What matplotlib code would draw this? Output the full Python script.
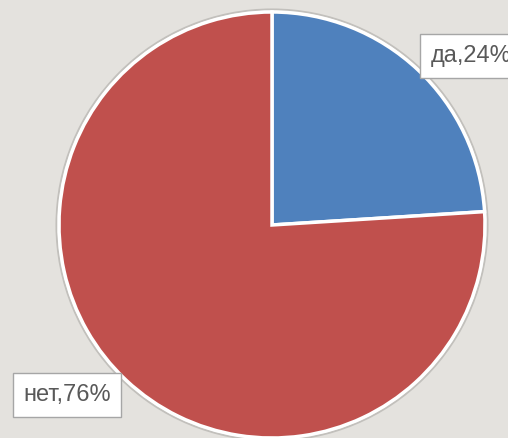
import matplotlib.pyplot as plt
from matplotlib.patches import Circle

labels = ["да", "нет"]
shares = [24, 76]
colors = ["#4F81BD", "#C0504D"]

W, H = 508, 438
BG = "#E4E2DE"

fig = plt.figure(figsize=(W / 100, H / 100), dpi=100, facecolor=BG)
ax = fig.add_axes([0, 0, 1, 1])

cx, cy, r = 272, H - 225, 213

# faint shadow around the pie rim
ax.add_patch(Circle((cx, cy), r + 2.5, facecolor="none", edgecolor="#C2C0BC", linewidth=1.5, zorder=0))

ax.pie(
    shares,
    colors=colors,
    startangle=90,
    counterclock=False,
    center=(cx, cy),
    radius=r,
    wedgeprops=dict(edgecolor="white", linewidth=2.5),
    frame=True,
)
ax.set_xlim(0, W)
ax.set_ylim(0, H)
ax.set_aspect("equal")
ax.axis("off")

box = dict(boxstyle="square,pad=0.45", facecolor="white", edgecolor="#A6A6A6", linewidth=1.0)
font = dict(family="Liberation Sans", fontsize=17, color="#595959")

ax.text(431, H - 56, f"{labels[0]},{shares[0]}%", ha="left", va="center", bbox=box, **font)
ax.text(67, H - 395, f"{labels[1]},{shares[1]}%", ha="center", va="center", bbox=box, **font)

fig.savefig("out.png", dpi=100, facecolor=BG)
